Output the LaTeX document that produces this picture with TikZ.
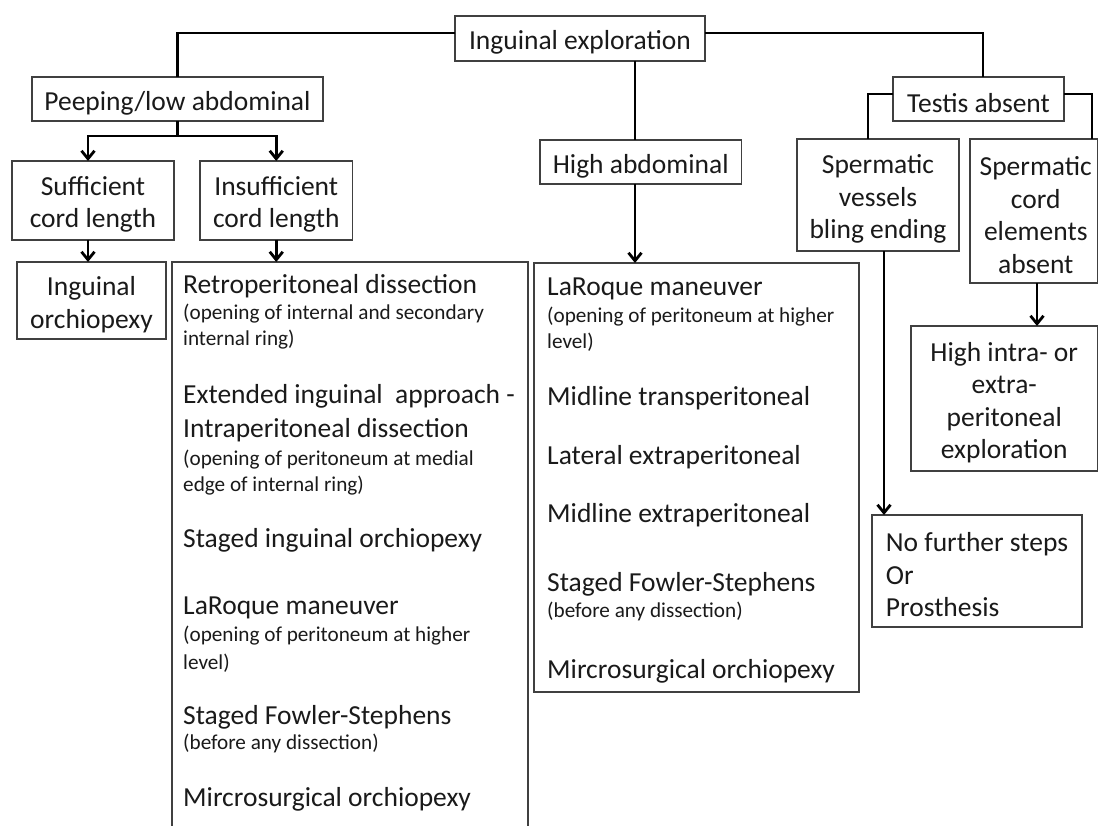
\documentclass[tikz,border=0pt]{standalone}
\usepackage{fontspec}
\setmainfont{Carlito}
\usetikzlibrary{arrows.meta}
\definecolor{boxgray}{HTML}{404040}
\definecolor{txt}{HTML}{1A1A1A}
\newcommand{\mainsz}{\fontsize{27.5pt}{32.5pt}\selectfont}
\newcommand{\smallsz}{\fontsize{21.2pt}{26pt}\selectfont}
\begin{document}
\begin{tikzpicture}[x=1pt,y=-1pt,
  box/.style={draw=boxgray, line width=1.4pt, inner sep=0pt, outer sep=0pt, align=center, font=\mainsz, text=txt,
    execute at begin node={\rule{0pt}{27.5pt}}},
  frame/.style={draw=boxgray, line width=1.4pt, inner sep=0pt, outer sep=0pt},
  btext/.style={inner sep=0pt, align=center, font=\mainsz, text=txt},
  conn/.style={line width=2.8pt, draw=black},
  arr/.style={conn, -{Straight Barb[length=8pt,width=13pt]}},
  big/.style={anchor=west, inner sep=0pt, font=\mainsz, text=txt, text height=19pt, text depth=6pt},
  small/.style={anchor=west, inner sep=0pt, font=\smallsz, text=txt, text height=15pt, text depth=5pt}]
\fill[white] (0,0) rectangle (1099,826);
\useasboundingbox (0,0) rectangle (1099,826);

% single-line boxes
\node[box, minimum width=250pt, minimum height=45pt] (ing) at (580,38.5) {Inguinal exploration};
\node[box, minimum width=291pt, minimum height=44pt] (peep) at (177.5,99) {Peeping/low abdominal};
\node[box, minimum width=201.5pt, minimum height=44pt] (high) at (640.75,162) {High abdominal};
\node[box, minimum width=171pt, minimum height=44pt] (testis) at (978.5,99) {Testis absent};

% multi-line boxes: frame + text
\node[frame, minimum width=162pt, minimum height=79pt] (suff) at (93,200.5) {};
\node[btext] (suff-t) at ([yshift=-4pt]suff.center) {Sufficient\\cord length};
\node[frame, minimum width=152.5pt, minimum height=79pt] (insuff) at (276.25,200.5) {};
\node[btext] (insuff-t) at ([yshift=-4pt]insuff.center) {Insufficient\\cord length};
\node[frame, minimum width=149pt, minimum height=77pt] (orch) at (91.5,300.5) {};
\node[btext] (orch-t) at ([yshift=-4pt]orch.center) {Inguinal\\orchiopexy};
\node[frame, minimum width=162pt, minimum height=112pt] (vess) at (878,195) {};
\node[btext] (vess-t) at ([yshift=-4pt]vess.center) {Spermatic\\vessels\\bling ending};
\node[frame, minimum width=127.5pt, minimum height=144pt] (cord) at (1033.75,211) {};
\node[btext] (cord-t) at ([yshift=-4pt,xshift=2pt]cord.center) {Spermatic\\cord\\elements\\absent};
\node[frame, minimum width=186.5pt, minimum height=145pt] (hint) at (1004.25,398.5) {};
\node[btext] (hint-t) at ([yshift=-4pt]hint.center) {High intra- or\\extra-\\peritoneal\\exploration};
\node[frame, minimum width=210pt, minimum height=112pt] (nofur) at (977,571) {};
\node[btext, align=left] (nofur-t) at ([yshift=-4pt]nofur.center) {No further steps\\Or\\Prosthesis};

% list boxes
\begin{scope}
\clip (0,0) rectangle (1099,826);
\node[frame, minimum width=356pt, minimum height=640pt] (ilist) at (350,582) {};
\end{scope}
\node[frame, minimum width=325pt, minimum height=429pt] (mlist) at (696.5,477.5) {};

% left list text
\node[big]   (l1)  at (183,286.7) {Retroperitoneal dissection};
\node[small] (l2)  at (183,314.7) {(opening of internal and secondary};
\node[small] (l3)  at (183,340.9) {internal ring)};
\node[big]   (l4)  at (183,397)   {Extended inguinal\ \ approach -};
\node[big]   (l5)  at (183,430.6) {Intraperitoneal dissection};
\node[small] (l6)  at (183,460.5) {(opening of peritoneum at medial};
\node[small] (l7)  at (183,486.6) {edge of internal ring)};
\node[big]   (l8)  at (183,540.8) {Staged inguinal orchiopexy};
\node[big]   (l9)  at (183,608)   {LaRoque maneuver};
\node[small] (l10) at (183,636.9) {(opening of peritoneum at higher};
\node[small] (l11) at (183,664)   {level)};
\node[big]   (l12) at (183,718)   {Staged Fowler-Stephens};
\node[small] (l13) at (183,744)   {(before any dissection)};
\node[big]   (l14) at (183,800)   {Mircrosurgical orchiopexy};

% middle list text
\node[big]   (m1) at (547,289) {LaRoque maneuver};
\node[small] (m2) at (547,317) {(opening of peritoneum at higher};
\node[small] (m3) at (547,343) {level)};
\node[big]   (m4) at (547,399) {Midline transperitoneal};
\node[big]   (m5) at (547,458) {Lateral extraperitoneal};
\node[big]   (m6) at (547,516) {Midline extraperitoneal};
\node[big]   (m7) at (547,585) {Staged Fowler-Stephens};
\node[small] (m8) at (547,612) {(before any dissection)};
\node[big]   (m9) at (547,672) {Mircrosurgical orchiopexy};

% helper coordinates
\coordinate (tl) at (177.5,33);
\coordinate (tr) at (983,33);
\coordinate (hm) at (635,0);
\coordinate (fk) at (177.5,136);
\coordinate (a1) at (88,0);
\coordinate (tbl) at (868,94);
\coordinate (tbr) at (1092,94);
\coordinate (vx) at (884,0);
\coordinate (cx) at (1037,0);

% connectors
\draw[conn] (ing.west |- tl) -| (peep.north);
\draw[conn] (ing.east |- tr) -- (tr) -- (tr |- testis.north);
\draw[conn] (ing.south -| hm) -- (high.north -| hm);
\draw[arr] (high.south -| hm) -- (mlist.north -| hm);
\draw[conn] (peep.south) -- (fk);
\draw[arr] (fk) -| (suff.north -| a1);
\draw[arr] (fk) -| (insuff.north);
\draw[arr] (suff.south -| a1) -- (orch.north -| a1);
\draw[arr] (insuff.south) -- (insuff.south |- ilist.north);
\draw[conn] (testis.west |- tbl) -- (tbl) -- (tbl |- vess.north);
\draw[conn] (testis.east |- tbr) -- (tbr) -- (tbr |- cord.north);
\draw[arr] (vess.south -| vx) -- (nofur.north -| vx);
\draw[arr] (cord.south -| cx) -- (hint.north -| cx);
\end{tikzpicture}
\end{document}
